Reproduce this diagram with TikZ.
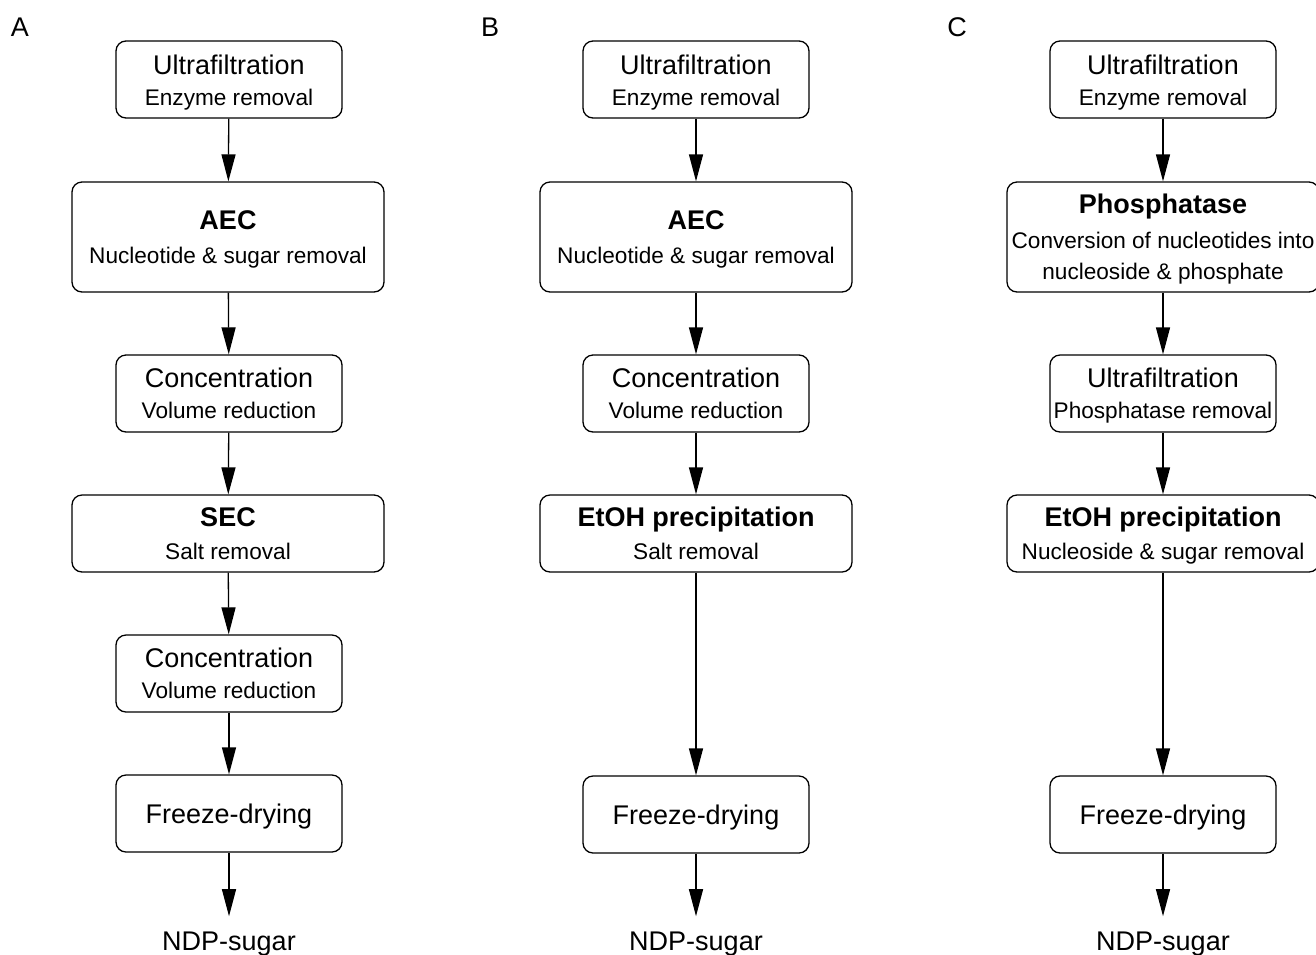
\documentclass[tikz,border=0pt]{standalone}
\usepackage{fontspec}
\setmainfont{Liberation Sans}
\usetikzlibrary{arrows.meta}
\newcommand{\tfont}{\fontsize{27}{31}\selectfont}
\newcommand{\sfont}{\fontsize{22.6}{31}\selectfont}
\newcommand{\dn}[2]{\raisebox{-#1}[\height][\depth]{#2}}
\tikzset{
  box/.style={draw, line width=1.3pt, rounded corners=10pt, align=center, inner sep=0pt, font=\sfont},
  narrow/.style={box, minimum width=226pt, minimum height=77pt},
  wide/.style={box, minimum width=312pt, minimum height=77pt},
  tall/.style={box, minimum width=312pt, minimum height=110pt},
  flow/.style={line width=1.3pt, -{Triangle[length=27pt,width=14pt]}},
  panel/.style={font=\tfont, inner sep=0pt},
  product/.style={font=\tfont, inner sep=0pt, anchor=base},
}
\begin{document}
\begin{tikzpicture}[x=1pt,y=-1pt]
\useasboundingbox (0,0) rectangle (1316,954);
% panel letters
\node[panel] (LA) at (20,27) {A};
\node[panel] (LB) at (490,27) {B};
\node[panel] (LC) at (957,27) {C};
% column A
\node[narrow] (a1) at (229,79.5) {\dn{3pt}{\tfont Ultrafiltration}\\\dn{3pt}{Enzyme removal}};
\node[tall] (a2) at (228,237) {\dn{3pt}{\tfont\bfseries AEC}\\[4pt]\dn{2pt}{Nucleotide \& sugar removal}};
\node[narrow] (a3) at (229,393.5) {{\tfont Concentration}\\Volume reduction};
\node[wide] (a4) at (228,533.5) {\dn{-1pt}{\tfont\bfseries SEC}\\\dn{1pt}{Salt removal}};
\node[narrow] (a5) at (229,673.5) {{\tfont Concentration}\\Volume reduction};
\node[narrow] (a6) at (229,813.5) {\dn{3pt}{\tfont Freeze-drying}};
\node[product] (a7) at (229,950) {NDP-sugar};
% column B
\node[narrow] (b1) at (696,79.5) {\dn{3pt}{\tfont Ultrafiltration}\\\dn{3pt}{Enzyme removal}};
\node[tall] (b2) at (696,237) {\dn{3pt}{\tfont\bfseries AEC}\\[4pt]\dn{2pt}{Nucleotide \& sugar removal}};
\node[narrow] (b3) at (696,393.5) {{\tfont Concentration}\\Volume reduction};
\node[wide] (b4) at (696,533.5) {\dn{-1pt}{\tfont\bfseries EtOH precipitation}\\\dn{1pt}{Salt removal}};
\node[narrow] (b5) at (696,814.5) {\dn{3pt}{\tfont Freeze-drying}};
\node[product] (b6) at (696,950) {NDP-sugar};
% column C
\node[narrow] (c1) at (1163,79.5) {\dn{3pt}{\tfont Ultrafiltration}\\\dn{3pt}{Enzyme removal}};
\node[tall] (c2) at (1163,237) {{\tfont\bfseries Phosphatase}\\\dn{4pt}{Conversion of nucleotides into}\\\dn{4pt}{nucleoside \& phosphate}};
\node[narrow] (c3) at (1163,393.5) {\dn{2pt}{\tfont Ultrafiltration}\\\dn{2pt}{Phosphatase removal}};
\node[wide] (c4) at (1163,533.5) {\dn{1pt}{\tfont\bfseries EtOH precipitation}\\\dn{3pt}{Nucleoside \& sugar removal}};
\node[narrow] (c5) at (1163,814.5) {\dn{3pt}{\tfont Freeze-drying}};
\node[product] (c6) at (1163,950) {NDP-sugar};
% connectors
\draw[flow] (a1) -- (a2);
\draw[flow] (a2) -- (a3);
\draw[flow] (a3) -- (a4);
\draw[flow] (a4) -- (a5);
\draw[flow] (a5) -- (a6);
\draw[flow, shorten >=15pt] (a6) -- (a7);
\draw[flow] (b1) -- (b2);
\draw[flow] (b2) -- (b3);
\draw[flow] (b3) -- (b4);
\draw[flow] (b4) -- (b5);
\draw[flow, shorten >=15pt] (b5) -- (b6);
\draw[flow] (c1) -- (c2);
\draw[flow] (c2) -- (c3);
\draw[flow] (c3) -- (c4);
\draw[flow] (c4) -- (c5);
\draw[flow, shorten >=15pt] (c5) -- (c6);
\end{tikzpicture}
\end{document}
